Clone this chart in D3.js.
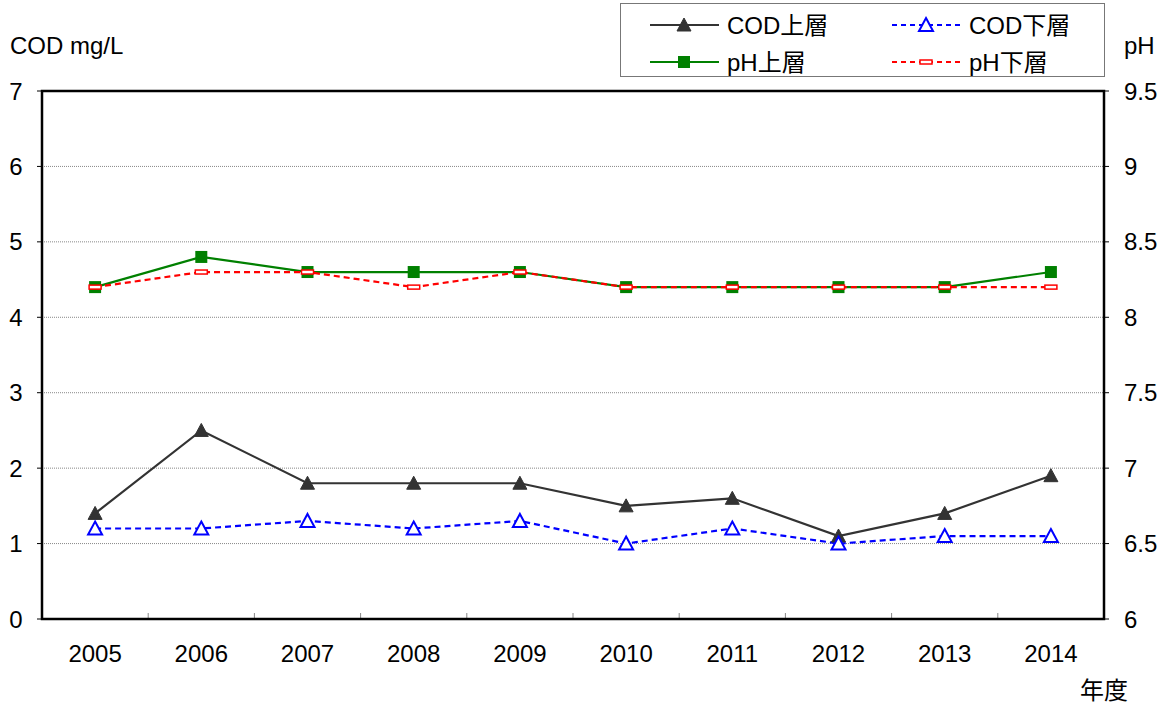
<!DOCTYPE html>
<html><head><meta charset="utf-8">
<script src="https://cdn.jsdelivr.net/npm/d3@7/dist/d3.min.js"></script>
<style>body{margin:0;background:#fff;} text{font-family:"Liberation Sans","Noto Sans CJK JP",sans-serif;}</style>
</head><body><svg id="c" width="1164" height="706"></svg>
<script>
const years = ["2005","2006","2007","2008","2009","2010","2011","2012","2013","2014"];
const codUpper = [1.4,2.5,1.8,1.8,1.8,1.5,1.6,1.1,1.4,1.9];
const codLower = [1.2,1.2,1.3,1.2,1.3,1.0,1.2,1.0,1.1,1.1];
const phUpper = [8.2,8.4,8.3,8.3,8.3,8.2,8.2,8.2,8.2,8.3];
const phLower = [8.2,8.3,8.3,8.2,8.3,8.2,8.2,8.2,8.2,8.2];
const leftTicks = [0,1,2,3,4,5,6,7];
const rightTicks = [6,6.5,7,7.5,8,8.5,9,9.5];

const svg = d3.select("#c");
const L=42,R=1104,T=91,B=619;
const x = d3.scaleBand().domain(years).range([L,R]);
const yL = d3.scaleLinear().domain([0,7]).range([B,T]);
const yR = d3.scaleLinear().domain([6,9.5]).range([B,T]);

// gridlines
svg.append("g").selectAll("line").data(leftTicks.filter(d=>d>0&&d<7)).join("line")
  .attr("x1",L).attr("x2",R).attr("y1",d=>yL(d)).attr("y2",d=>yL(d))
  .attr("stroke","#888").attr("stroke-width",1).attr("stroke-dasharray","1,1");

// category boundary ticks
svg.append("g").selectAll("line").data(years.slice(1)).join("line")
  .attr("x1",d=>x(d)).attr("x2",d=>x(d)).attr("y1",B).attr("y2",B-6)
  .attr("stroke","#888").attr("stroke-width",1);

// axis ticks
svg.append("g").selectAll("line").data(leftTicks).join("line")
  .attr("x1",L-5).attr("x2",L).attr("y1",d=>yL(d)).attr("y2",d=>yL(d)).attr("stroke","#000");
svg.append("g").selectAll("line").data(rightTicks).join("line")
  .attr("x1",R).attr("x2",R+5).attr("y1",d=>yR(d)).attr("y2",d=>yR(d)).attr("stroke","#000");

// frame
svg.append("rect").attr("x",L).attr("y",T).attr("width",R-L).attr("height",B-T)
  .attr("fill","none").attr("stroke","#000").attr("stroke-width",2.5);

const fs = 24;
svg.append("g").selectAll("text").data(leftTicks).join("text")
  .attr("x",16).attr("y",d=>yL(d)+8.5).attr("text-anchor","middle").attr("font-size",fs).text(d=>d);
svg.append("g").selectAll("text").data(rightTicks).join("text")
  .attr("x",1124).attr("y",d=>yR(d)+8.5).attr("text-anchor","start").attr("font-size",fs).text(d=>d);
svg.append("g").selectAll("text").data(years).join("text")
  .attr("x",d=>x(d)+x.bandwidth()/2).attr("y",662).attr("text-anchor","middle").attr("font-size",fs).text(d=>d);

svg.append("text").attr("x",10).attr("y",54).attr("font-size",fs).text("COD mg/L");
svg.append("text").attr("x",1124).attr("y",54).attr("font-size",fs).text("pH");
svg.append("text").attr("x",1080).attr("y",699).attr("font-size",fs).attr("font-family","Noto Sans CJK JP").text("年度");

const cx = d=>x(d)+x.bandwidth()/2;
function series(vals, y, color, dash){
  const line = d3.line().x((d,i)=>cx(years[i])).y(d=>y(d));
  svg.append("path").attr("d",line(vals)).attr("fill","none").attr("stroke",color)
    .attr("stroke-width",2.2).attr("stroke-dasharray",dash||null);
}
function tri(g, px, py, fill, stroke){
  g.append("path").attr("d",`M${px},${py-7}L${px+7},${py+6}L${px-7},${py+6}Z`)
   .attr("fill",fill).attr("stroke",stroke).attr("stroke-width",fill==="#fff"?2:1);
}
function sq(g,px,py){ g.append("rect").attr("x",px-6).attr("y",py-6).attr("width",12).attr("height",12).attr("fill","#008000"); }
function dash(g,px,py){ g.append("rect").attr("x",px-6).attr("y",py-2).attr("width",12).attr("height",4).attr("fill","#fff").attr("stroke","#f00").attr("stroke-width",1.5); }

series(phUpper,yR,"#008000");
series(phLower,yR,"#f00","6,4");
series(codUpper,yL,"#333");
series(codLower,yL,"#00f","6,4");
const mg = svg.append("g");
phUpper.forEach((v,i)=>sq(mg,cx(years[i]),yR(v)));
phLower.forEach((v,i)=>dash(mg,cx(years[i]),yR(v)));
codUpper.forEach((v,i)=>tri(mg,cx(years[i]),yL(v),"#333","#333"));
codLower.forEach((v,i)=>tri(mg,cx(years[i]),yL(v),"#fff","#00f"));

// legend
const lg = svg.append("g");
lg.append("rect").attr("x",620.5).attr("y",3.5).attr("width",484).attr("height",73).attr("fill","#fff").attr("stroke","#777").attr("stroke-width",1);
const items = [
  {label:"COD上層",x:650,y:25,color:"#333",dash:null,mk:"triF"},
  {label:"COD下層",x:892,y:25,color:"#00f",dash:"5,4",mk:"triO"},
  {label:"pH上層",x:650,y:62,color:"#008000",dash:null,mk:"sq"},
  {label:"pH下層",x:892,y:62,color:"#f00",dash:"5,4",mk:"dash"}
];
items.forEach(it=>{
  lg.append("line").attr("x1",it.x).attr("x2",it.x+69).attr("y1",it.y).attr("y2",it.y)
    .attr("stroke",it.color).attr("stroke-width",2).attr("stroke-dasharray",it.dash);
  const mx = it.x+34;
  if(it.mk==="triF") tri(lg,mx,it.y,"#333","#333");
  if(it.mk==="triO") tri(lg,mx,it.y,"#fff","#00f");
  if(it.mk==="sq") sq(lg,mx,it.y);
  if(it.mk==="dash") dash(lg,mx,it.y);
  lg.append("text").attr("x",it.x+77).attr("y",it.y+8.5).attr("font-size",fs).text(it.label);
});
</script></body></html>
